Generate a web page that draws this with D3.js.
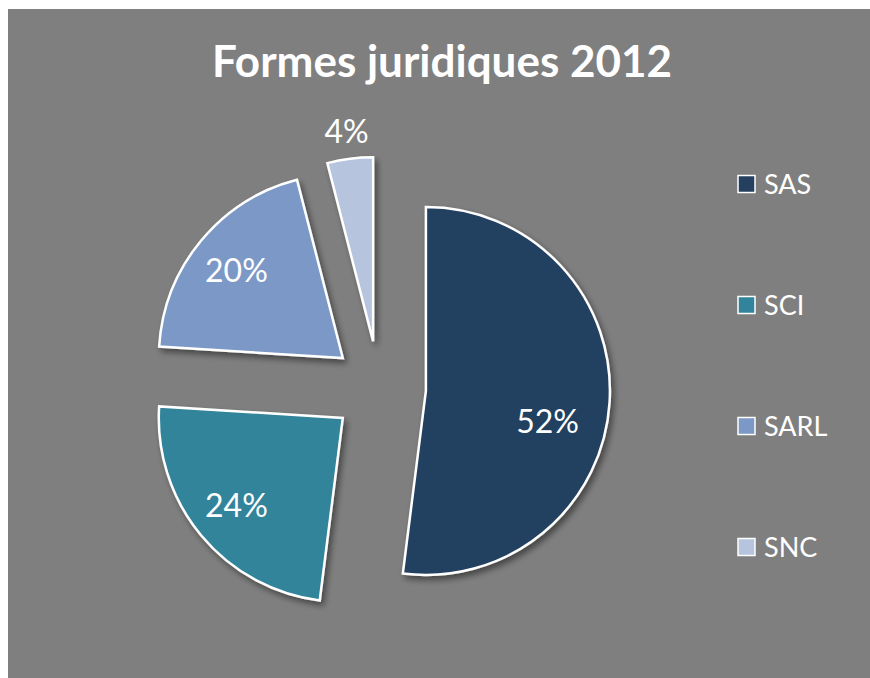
<!DOCTYPE html>
<html>
<head>
<meta charset="utf-8">
<script src="https://cdn.jsdelivr.net/npm/d3@7"></script>
<style>
  html, body { margin: 0; padding: 0; background: #ffffff; }
  svg { display: block; }
  text { font-family: Lato, "Open Sans", sans-serif; fill: #ffffff; }
</style>
</head>
<body>
<script>
var title = 'Formes juridiques 2012';
var categories = ['SAS', 'SCI', 'SARL', 'SNC'];
var values = [52, 24, 20, 4];
var palette = ['#243f60', '#31849b', '#7b98c6', '#b7c4de'];

var width = 870;
var height = 678;
var cx = 379;
var cy = 388;
var radius = 184;
var explode = 47;

var svg = d3.select('body').append('svg')
  .attr('width', width)
  .attr('height', height);

var defs = svg.append('defs');
var shadow = defs.append('filter')
  .attr('id', 'shadow')
  .attr('x', '-20%').attr('y', '-20%')
  .attr('width', '140%').attr('height', '140%');
shadow.append('feDropShadow')
  .attr('dx', 3).attr('dy', 4)
  .attr('stdDeviation', 3)
  .attr('flood-color', '#000')
  .attr('flood-opacity', 0.45);

// chart area
svg.append('rect')
  .attr('x', 8).attr('y', 9)
  .attr('width', width - 8).attr('height', height - 9)
  .attr('fill', '#7f7f7f');

svg.append('text')
  .attr('x', 442)
  .attr('y', 77)
  .attr('text-anchor', 'middle')
  .style('font-weight', 'bold')
  .style('font-size', '44px')
  .text(title);

var color = d3.scaleOrdinal().domain(categories).range(palette);

var pie = d3.pie()
  .sort(null)
  .value(function(d, i) { return values[i]; });

var slices = pie(categories);
var total = d3.sum(values);

var arc = d3.arc().innerRadius(0).outerRadius(radius);
var inLabelArc = d3.arc().innerRadius(radius * 0.75).outerRadius(radius * 0.75);
var outLabelArc = d3.arc().innerRadius(radius + 28).outerRadius(radius + 28);

function midAngle(d) {
  return (d.startAngle + d.endAngle) / 2;
}

function offset(d) {
  var a = midAngle(d);
  return [explode * Math.sin(a), -explode * Math.cos(a)];
}

var pieRoot = svg.append('g')
  .attr('transform', 'translate(' + cx + ',' + cy + ')');

var sliceSel = pieRoot.selectAll('.slice').data(slices)
  .enter().append('g')
    .attr('class', 'slice')
    .attr('transform', function(d) {
      var o = offset(d);
      return 'translate(' + o[0] + ',' + o[1] + ')';
    });

sliceSel.append('path')
  .attr('d', arc)
  .attr('fill', function(d) { return color(d.data); })
  .attr('stroke', '#ffffff')
  .attr('stroke-width', 2.5)
  .attr('stroke-linejoin', 'miter')
  .attr('filter', 'url(#shadow)');

sliceSel.append('text')
  .attr('transform', function(d) {
    var small = d.value / total < 0.1;
    var c = (small ? outLabelArc : inLabelArc).centroid(d);
    // slices over half a turn: excel pulls the label in and down
    if (d.endAngle - d.startAngle > Math.PI) {
      c[0] -= 16;
      c[1] += 22;
    }
    return 'translate(' + c[0] + ',' + c[1] + ')';
  })
  .attr('text-anchor', 'middle')
  .attr('dy', '0.36em')
  .style('font-size', '32px')
  .text(function(d) { return Math.round(d.value / total * 100) + '%'; });

// legend
var legendY = d3.scalePoint().domain(categories).range([184, 547]);

var legend = svg.append('g').selectAll('.legend-item').data(categories)
  .enter().append('g')
    .attr('class', 'legend-item')
    .attr('transform', function(d) { return 'translate(738,' + legendY(d) + ')'; });

legend.append('rect')
  .attr('x', 0).attr('y', -8.5)
  .attr('width', 17).attr('height', 17)
  .attr('fill', color)
  .attr('stroke', '#ffffff')
  .attr('stroke-width', 1.5);

legend.append('text')
  .attr('x', 26)
  .attr('dy', '0.36em')
  .style('font-size', '27px')
  .text(function(d) { return d; });
</script>
</body>
</html>
